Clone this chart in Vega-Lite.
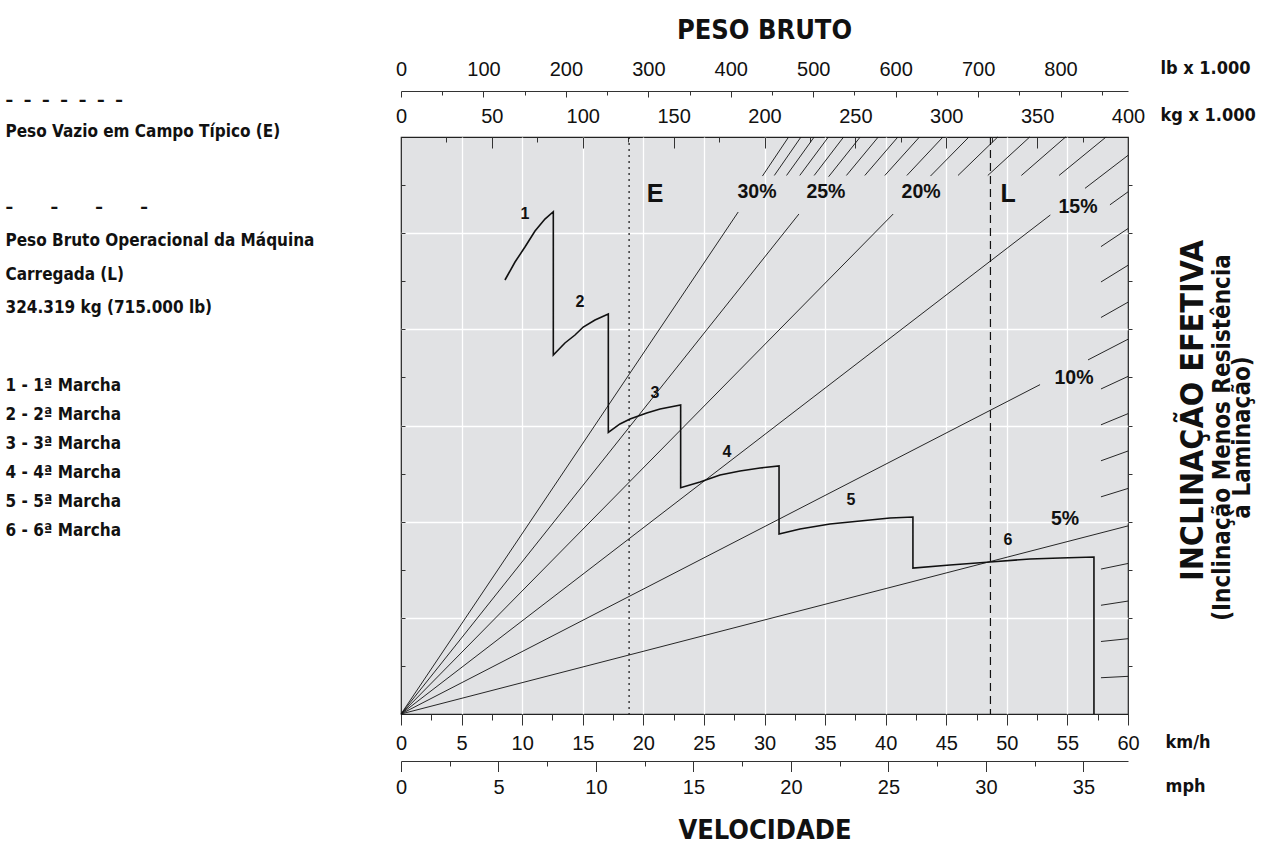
{
  "$schema": "https://vega.github.io/schema/vega-lite/v6.json",
  "width": 727,
  "height": 577,
  "autosize": {"type": "none"},
  "padding": {"left": 401, "top": 137, "right": 149, "bottom": 134},
  "background": "white",
  "title": {"text": "PESO BRUTO", "font": "DejaVu Sans Condensed, sans-serif", "fontSize": 27, "fontWeight": "bold", "color": "#111", "anchor": "middle", "frame": "group", "offset": 12},
  "config": {
    "view": {"fill": "#e1e2e4", "stroke": "#222", "strokeWidth": 1.2},
    "axis": {"labelFont": "Liberation Sans", "labelFontSize": 20, "labelColor": "#111", "tickColor": "#333", "tickWidth": 1, "domainColor": "#333", "titleFont": "DejaVu Sans Condensed, sans-serif", "titleFontWeight": "bold", "titleColor": "#111", "titleFontSize": 18, "grid": false, "labelOverlap": false, "labelFlush": false, "labelBound": false}
  },
  "datasets": {
    "grades": [
      {"id": "g5", "kmh": 0, "u": 0}, {"id": "g5", "kmh": 60, "u": 1.956},
      {"id": "g10a", "kmh": 0, "u": 0}, {"id": "g10a", "kmh": 52.74, "u": 3.425},
      {"id": "g10b", "kmh": 56.70, "u": 3.682}, {"id": "g10b", "kmh": 60, "u": 3.897},
      {"id": "g15a", "kmh": 0, "u": 0}, {"id": "g15a", "kmh": 53.59, "u": 5.189},
      {"id": "g15b", "kmh": 56.45, "u": 5.466}, {"id": "g15b", "kmh": 60, "u": 5.809},
      {"id": "g20a", "kmh": 0, "u": 0}, {"id": "g20a", "kmh": 40.62, "u": 5.199},
      {"id": "g20b", "kmh": 43.70, "u": 5.594}, {"id": "g20b", "kmh": 46.87, "u": 6},
      {"id": "g25a", "kmh": 0, "u": 0}, {"id": "g25a", "kmh": 32.84, "u": 5.199},
      {"id": "g25b", "kmh": 35.29, "u": 5.587}, {"id": "g25b", "kmh": 37.90, "u": 6},
      {"id": "g30a", "kmh": 0, "u": 0}, {"id": "g30a", "kmh": 27.83, "u": 5.22},
      {"id": "g30b", "kmh": 29.83, "u": 5.594}, {"id": "g30b", "kmh": 31.99, "u": 6},
      {"id": "h1", "kmh": 57.77, "u": 0.3771}, {"id": "h1", "kmh": 60, "u": 0.3916},
      {"id": "h2", "kmh": 57.77, "u": 0.7540}, {"id": "h2", "kmh": 60, "u": 0.7831},
      {"id": "h3", "kmh": 57.77, "u": 1.1307}, {"id": "h3", "kmh": 60, "u": 1.1743},
      {"id": "h4", "kmh": 57.77, "u": 1.5070}, {"id": "h4", "kmh": 60, "u": 1.5652},
      {"id": "h6", "kmh": 57.77, "u": 2.2582}, {"id": "h6", "kmh": 60, "u": 2.3453},
      {"id": "h7", "kmh": 57.77, "u": 2.6330}, {"id": "h7", "kmh": 60, "u": 2.7346},
      {"id": "h8", "kmh": 57.77, "u": 3.0071}, {"id": "h8", "kmh": 60, "u": 3.1231},
      {"id": "h9", "kmh": 57.77, "u": 3.3799}, {"id": "h9", "kmh": 60, "u": 3.5104},
      {"id": "h11", "kmh": 57.77, "u": 4.1231}, {"id": "h11", "kmh": 60, "u": 4.2822},
      {"id": "h12", "kmh": 57.77, "u": 4.4926}, {"id": "h12", "kmh": 60, "u": 4.6660},
      {"id": "h13", "kmh": 57.77, "u": 4.8602}, {"id": "h13", "kmh": 60, "u": 5.0478},
      {"id": "h14", "kmh": 58.51, "u": 5.2948}, {"id": "h14", "kmh": 60, "u": 5.4297},
      {"id": "h16", "kmh": 54.31, "u": 5.60}, {"id": "h16", "kmh": 58.19, "u": 6},
      {"id": "h17", "kmh": 51.20, "u": 5.60}, {"id": "h17", "kmh": 54.85, "u": 6},
      {"id": "h18", "kmh": 48.43, "u": 5.60}, {"id": "h18", "kmh": 51.89, "u": 6},
      {"id": "h19", "kmh": 45.97, "u": 5.60}, {"id": "h19", "kmh": 49.25, "u": 6},
      {"id": "h21", "kmh": 41.75, "u": 5.60}, {"id": "h21", "kmh": 44.73, "u": 6},
      {"id": "h22", "kmh": 39.93, "u": 5.60}, {"id": "h22", "kmh": 42.79, "u": 6},
      {"id": "h23", "kmh": 38.28, "u": 5.60}, {"id": "h23", "kmh": 41.01, "u": 6},
      {"id": "h24", "kmh": 36.76, "u": 5.60}, {"id": "h24", "kmh": 39.39, "u": 6},
      {"id": "h26", "kmh": 34.10, "u": 5.60}, {"id": "h26", "kmh": 36.53, "u": 6},
      {"id": "h27", "kmh": 32.91, "u": 5.60}, {"id": "h27", "kmh": 35.27, "u": 6},
      {"id": "h28", "kmh": 31.82, "u": 5.60}, {"id": "h28", "kmh": 34.10, "u": 6},
      {"id": "h29", "kmh": 30.81, "u": 5.60}, {"id": "h29", "kmh": 33.01, "u": 6}
    ],
    "gears": [
      {"i": 1, "kmh": 8.58, "u": 4.513}, {"i": 2, "kmh": 9.41, "u": 4.700}, {"i": 3, "kmh": 10.23, "u": 4.856},
      {"i": 4, "kmh": 11.06, "u": 5.022}, {"i": 5, "kmh": 11.88, "u": 5.147}, {"i": 6, "kmh": 12.57, "u": 5.223},
      {"i": 7, "kmh": 12.57, "u": 3.733}, {"i": 8, "kmh": 13.53, "u": 3.858}, {"i": 9, "kmh": 14.36, "u": 3.941},
      {"i": 10, "kmh": 15.04, "u": 4.024}, {"i": 11, "kmh": 16.01, "u": 4.097}, {"i": 12, "kmh": 17.11, "u": 4.159},
      {"i": 13, "kmh": 17.11, "u": 2.929}, {"i": 14, "kmh": 18.07, "u": 3.016}, {"i": 15, "kmh": 18.90, "u": 3.067},
      {"i": 16, "kmh": 20.28, "u": 3.130}, {"i": 17, "kmh": 21.38, "u": 3.171}, {"i": 18, "kmh": 23.08, "u": 3.213},
      {"i": 19, "kmh": 23.08, "u": 2.353}, {"i": 20, "kmh": 24.68, "u": 2.412}, {"i": 21, "kmh": 26.33, "u": 2.485},
      {"i": 22, "kmh": 27.98, "u": 2.527}, {"i": 23, "kmh": 29.63, "u": 2.558}, {"i": 24, "kmh": 31.20, "u": 2.579},
      {"i": 25, "kmh": 31.20, "u": 1.872}, {"i": 26, "kmh": 32.93, "u": 1.924}, {"i": 27, "kmh": 35.40, "u": 1.976},
      {"i": 28, "kmh": 37.88, "u": 2.007}, {"i": 29, "kmh": 40.36, "u": 2.038}, {"i": 30, "kmh": 42.25, "u": 2.048},
      {"i": 31, "kmh": 42.25, "u": 1.518}, {"i": 32, "kmh": 45.31, "u": 1.549}, {"i": 33, "kmh": 48.61, "u": 1.581},
      {"i": 34, "kmh": 51.91, "u": 1.612}, {"i": 35, "kmh": 54.39, "u": 1.622}, {"i": 36, "kmh": 57.19, "u": 1.633},
      {"i": 37, "kmh": 57.19, "u": 0}
    ],
    "gradeLabels": [
      {"kmh": 29.38, "u": 5.428, "text": "30%"},
      {"kmh": 35.07, "u": 5.428, "text": "25%"},
      {"kmh": 42.92, "u": 5.428, "text": "20%"},
      {"kmh": 55.87, "u": 5.272, "text": "15%"},
      {"kmh": 55.54, "u": 3.494, "text": "10%"},
      {"kmh": 54.80, "u": 2.028, "text": "5%"}
    ],
    "gearLabels": [
      {"kmh": 10.23, "u": 5.199, "text": "1"},
      {"kmh": 14.77, "u": 4.284, "text": "2"},
      {"kmh": 20.96, "u": 3.338, "text": "3"},
      {"kmh": 26.90, "u": 2.724, "text": "4"},
      {"kmh": 37.14, "u": 2.225, "text": "5"},
      {"kmh": 50.10, "u": 1.809, "text": "6"}
    ],
    "weights": [
      {"id": "E", "kg": 125.5},
      {"id": "L", "kg": 324.319}
    ],
    "weightLabels": [
      {"id": "E", "kg": 139.75, "u": 5.407},
      {"id": "L", "kg": 334.0, "u": 5.407}
    ],
    "lbAxis": [{"lb": 0, "u": 0}],
    "mphAxis": [{"mph": 0, "u": 0}],
    "unitAxis": [{"z": 0, "u": 0}]
  },
  "layer": [
    {
      "data": {"name": "grades"},
      "mark": {"type": "line", "color": "#111", "strokeWidth": 0.9},
      "encoding": {
        "x": {"field": "kmh", "type": "quantitative", "scale": {"domain": [0, 60], "nice": false, "zero": false},
          "axis": {"orient": "bottom", "values": [0,2.5,5,7.5,10,12.5,15,17.5,20,22.5,25,27.5,30,32.5,35,37.5,40,42.5,45,47.5,50,52.5,55,57.5,60],
            "domain": false,
            "tickSize": {"condition": {"test": "datum.value % 5 === 0", "value": 11}, "value": 6},
            "labelExpr": "datum.value % 5 === 0 ? format(datum.value, 'd') : ''",
            "labelPadding": 8,
            "grid": true, "gridColor": "#ffffff", "gridWidth": 1.3,
            "gridOpacity": {"condition": {"test": "datum.value % 5 === 0 && datum.value > 0 && datum.value < 60", "value": 1}, "value": 0},
            "title": "km/h", "titleX": 764, "titleY": 28, "titleAlign": "left", "titleBaseline": "middle", "titleAngle": 0}},
        "y": {"field": "u", "type": "quantitative", "scale": {"domain": [0, 6], "nice": false, "zero": false},
          "axis": {"orient": "left", "values": [0.5,1,1.5,2,2.5,3,3.5,4,4.5,5,5.5], "domain": false, "labels": false, "tickSize": -4,
            "grid": true, "gridColor": "#ffffff", "gridWidth": 1.3,
            "gridOpacity": {"condition": {"test": "datum.value % 1 === 0", "value": 1}, "value": 0},
            "title": ["1 - 1ª Marcha", "2 - 2ª Marcha", "3 - 3ª Marcha", "4 - 4ª Marcha", "5 - 5ª Marcha", "6 - 6ª Marcha"],
            "titleAngle": 0, "titleAlign": "left", "titleBaseline": "top", "titleX": -396, "titleY": 240.5, "titleLineHeight": 29, "titleFontSize": 17}},
        "detail": {"field": "id", "type": "nominal"}
      }
    },
    {
      "data": {"name": "gears"},
      "mark": {"type": "line", "color": "#111", "strokeWidth": 1.6},
      "encoding": {
        "x": {"field": "kmh", "type": "quantitative", "scale": {"domain": [0, 60], "nice": false, "zero": false}, "axis": null},
        "y": {"field": "u", "type": "quantitative", "scale": {"domain": [0, 6], "nice": false, "zero": false}, "axis": null},
        "order": {"field": "i", "type": "quantitative"}
      }
    },
    {
      "data": {"name": "gradeLabels"},
      "mark": {"type": "text", "font": "Liberation Sans", "fontSize": 19.5, "fontWeight": "bold", "color": "#111", "align": "center", "baseline": "middle"},
      "encoding": {
        "x": {"field": "kmh", "type": "quantitative", "scale": {"domain": [0, 60], "nice": false, "zero": false}, "axis": null},
        "y": {"field": "u", "type": "quantitative", "scale": {"domain": [0, 6], "nice": false, "zero": false}, "axis": null},
        "text": {"field": "text", "type": "nominal"}
      }
    },
    {
      "data": {"name": "gearLabels"},
      "mark": {"type": "text", "font": "Liberation Sans", "fontSize": 16, "fontWeight": "bold", "color": "#111", "align": "center", "baseline": "middle"},
      "encoding": {
        "x": {"field": "kmh", "type": "quantitative", "scale": {"domain": [0, 60], "nice": false, "zero": false}, "axis": null},
        "y": {"field": "u", "type": "quantitative", "scale": {"domain": [0, 6], "nice": false, "zero": false}, "axis": null},
        "text": {"field": "text", "type": "nominal"}
      }
    },
    {
      "data": {"name": "weights"},
      "mark": {"type": "rule", "color": "#111", "strokeWidth": 1.2},
      "encoding": {
        "x": {"field": "kg", "type": "quantitative", "scale": {"domain": [0, 400], "nice": false, "zero": false},
          "axis": {"orient": "top", "values": [0,25,50,75,100,125,150,175,200,225,250,275,300,325,350,375,400],
            "domain": false,
            "tickSize": {"condition": {"test": "datum.value % 50 === 0", "value": -11}, "value": -5},
            "labelExpr": "datum.value % 50 === 0 ? format(datum.value, 'd') : ''",
            "labelPadding": 21.6,
            "title": "kg x 1.000", "titleX": 759, "titleY": -22, "titleAlign": "left", "titleBaseline": "middle", "titleAngle": 0}},
        "strokeDash": {"field": "id", "type": "nominal", "scale": {"domain": ["E", "L"], "range": [[2, 4], [8, 5]]}, "legend": null}
      }
    },
    {
      "data": {"name": "weightLabels"},
      "mark": {"type": "text", "font": "Liberation Sans", "fontSize": 25, "fontWeight": "bold", "color": "#111", "align": "center", "baseline": "middle"},
      "encoding": {
        "x": {"field": "kg", "type": "quantitative", "scale": {"domain": [0, 400], "nice": false, "zero": false}, "axis": null},
        "y": {"field": "u", "type": "quantitative", "scale": {"domain": [0, 6], "nice": false, "zero": false},
          "axis": {"orient": "right", "values": [0.5,1,1.5,2,2.5,3,3.5,4,4.5,5,5.5], "domain": false, "labels": false, "tickSize": 4,
            "title": "INCLINAÇÃO EFETIVA", "titleAngle": 270, "titleX": 64, "titleY": 273, "titleAlign": "center", "titleBaseline": "middle", "titleFontSize": 32}},
        "text": {"field": "id", "type": "nominal"}
      }
    },
    {
      "data": {"name": "lbAxis"},
      "mark": {"type": "point", "opacity": 0},
      "encoding": {
        "x": {"field": "lb", "type": "quantitative", "scale": {"domain": [0, 881.85], "nice": false, "zero": false},
          "axis": {"orient": "top", "offset": 46, "values": [0,50,100,150,200,250,300,350,400,450,500,550,600,650,700,750,800,850],
            "domain": true,
            "tickSize": {"condition": {"test": "datum.value % 100 === 0", "value": -6}, "value": -4},
            "labelExpr": "datum.value % 100 === 0 ? format(datum.value, 'd') : ''",
            "labelPadding": 17.6,
            "title": "lb x 1.000", "titleX": 759, "titleY": -23, "titleAlign": "left", "titleBaseline": "middle", "titleAngle": 0}},
        "y": {"field": "u", "type": "quantitative", "scale": {"domain": [0, 6], "nice": false, "zero": false},
          "axis": {"orient": "right", "domain": false, "labels": false, "ticks": false,
            "title": ["(Inclinação Menos Resistência", "à Laminação)"], "titleAngle": 270, "titleX": 82, "titleY": 300, "titleAlign": "center", "titleBaseline": "top", "titleLineHeight": 20, "titleFontSize": 24}}
      }
    },
    {
      "data": {"name": "mphAxis"},
      "mark": {"type": "point", "opacity": 0},
      "encoding": {
        "x": {"field": "mph", "type": "quantitative", "scale": {"domain": [0, 37.2823], "nice": false, "zero": false},
          "axis": {"orient": "bottom", "offset": 47, "values": [0,2.5,5,7.5,10,12.5,15,17.5,20,22.5,25,27.5,30,32.5,35],
            "domain": true,
            "tickSize": {"condition": {"test": "datum.value % 5 === 0", "value": 10.5}, "value": 5},
            "labelExpr": "datum.value % 5 === 0 ? format(datum.value, 'd') : ''",
            "labelPadding": 6,
            "title": "VELOCIDADE", "titleX": 363.5, "titleY": 69, "titleAlign": "center", "titleBaseline": "middle", "titleAngle": 0, "titleFontSize": 27}},
        "y": {"field": "u", "type": "quantitative", "scale": {"domain": [0, 6], "nice": false, "zero": false},
          "axis": {"orient": "left", "domain": false, "labels": false, "ticks": false,
            "title": ["–\u00a0\u00a0–\u00a0\u00a0–\u00a0\u00a0–\u00a0\u00a0–\u00a0\u00a0–\u00a0\u00a0–", "Peso Vazio em Campo Típico (E)"], "titleAngle": 0, "titleAlign": "left", "titleBaseline": "top", "titleX": -396, "titleY": -44.8, "titleLineHeight": 31, "titleFontSize": 17}}
      }
    },
    {
      "data": {"name": "unitAxis"},
      "mark": {"type": "point", "opacity": 0},
      "encoding": {
        "x": {"field": "z", "type": "quantitative", "scale": {"domain": [0, 1], "nice": false, "zero": false},
          "axis": {"orient": "bottom", "offset": 47, "domain": false, "labels": false, "ticks": false,
            "title": "mph", "titleX": 764, "titleY": 25, "titleAlign": "left", "titleBaseline": "middle", "titleAngle": 0}},
        "y": {"field": "u", "type": "quantitative", "scale": {"domain": [0, 6], "nice": false, "zero": false},
          "axis": {"orient": "left", "domain": false, "labels": false, "ticks": false,
            "title": ["–\u00a0\u00a0\u00a0\u00a0\u00a0\u00a0\u00a0–\u00a0\u00a0\u00a0\u00a0\u00a0\u00a0\u00a0–\u00a0\u00a0\u00a0\u00a0\u00a0\u00a0\u00a0–", "Peso Bruto Operacional da Máquina", "Carregada (L)", "324.319 kg (715.000 lb)"], "titleAngle": 0, "titleAlign": "left", "titleBaseline": "top", "titleX": -396, "titleY": 62.2, "titleLineHeight": 33.5, "titleFontSize": 17}}
      }
    }
  ],
  "resolve": {"scale": {"x": "independent"}, "axis": {"x": "independent", "y": "independent"}}
}
